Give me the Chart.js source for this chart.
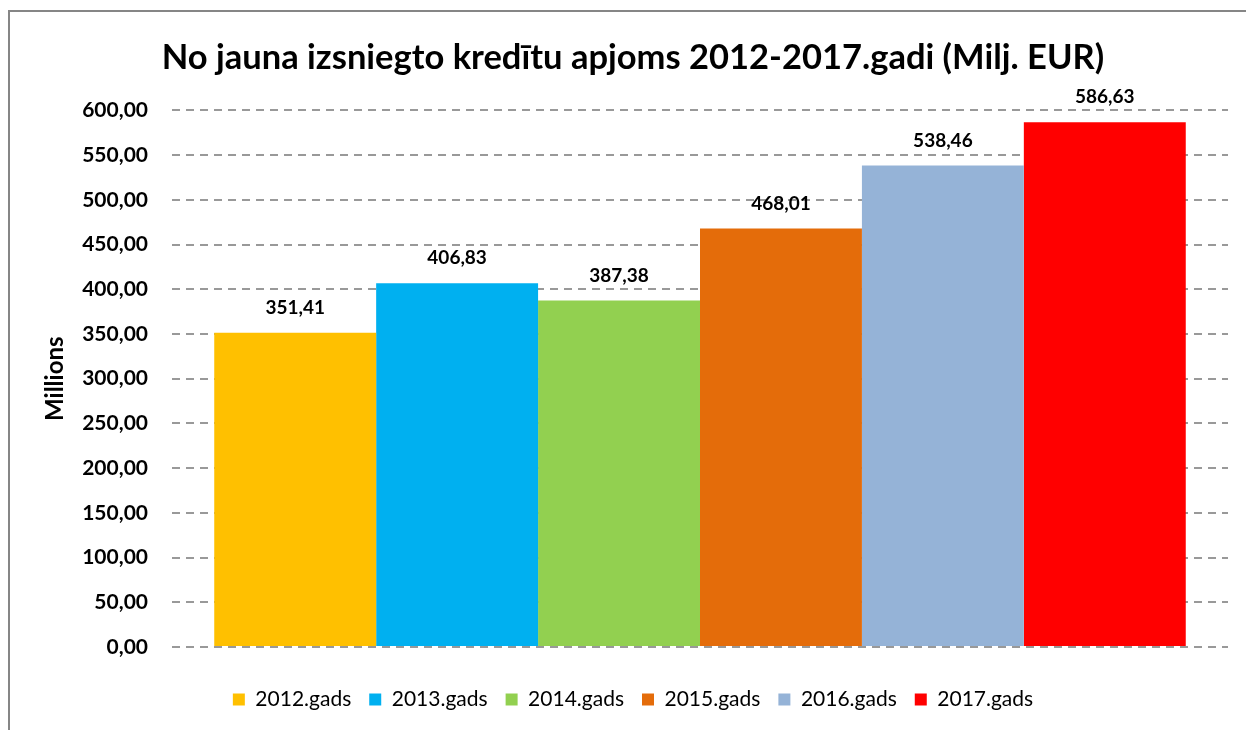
<!DOCTYPE html>
<html>
<head>
<meta charset="utf-8">
<script src="https://cdn.jsdelivr.net/npm/chart.js@4/dist/chart.umd.min.js"></script>
<style>
  html, body { margin: 0; padding: 0; background: #ffffff; }
  #wrap { width: 1246px; height: 730px; }
</style>
</head>
<body>
<div id="wrap"><canvas id="grafiks" width="1246" height="730"></canvas></div>
<script>
// dati
const gadi = ['2012.gads', '2013.gads', '2014.gads', '2015.gads', '2016.gads', '2017.gads'];
const apjoms = [351.41, 406.83, 387.38, 468.01, 538.46, 586.63];
const krasas = ['#FFC000', '#00B0F0', '#92D050', '#E46C0A', '#95B3D7', '#FF0000'];
const asuVertibas = [0, 50, 100, 150, 200, 250, 300, 350, 400, 450, 500, 550, 600];

const fonts = 'Lato, "Open Sans", sans-serif';

function formatet(v) {
    return v.toFixed(2).replace('.', ',');
}

// rāmis ap diagrammu (kā Excel)
const ramis = {
    id: 'ramis',
    beforeDraw(chart) {
        const ctx = chart.ctx;
        ctx.save();
        ctx.strokeStyle = '#868686';
        ctx.lineWidth = 2;
        ctx.strokeRect(9, 11, chart.width + 20, chart.height + 20);
        ctx.restore();
    }
};

// vērtības virs stabiņiem
const vertibuUzraksti = {
    id: 'vertibuUzraksti',
    afterDatasetsDraw(chart) {
        const ctx = chart.ctx;
        ctx.save();
        ctx.font = 'bold 19px ' + fonts;
        ctx.fillStyle = '#000000';
        ctx.textAlign = 'center';
        ctx.textBaseline = 'middle';
        chart.data.datasets.forEach((ds, i) => {
            const meta = chart.getDatasetMeta(i);
            meta.data.forEach((bar, j) => {
                ctx.fillText(formatet(ds.data[j]), bar.x, bar.y - 25);
            });
        });
        ctx.restore();
    }
};

const datasets = gadi.map((g, i) => ({
    label: g,
    data: [apjoms[i]],
    backgroundColor: krasas[i],
    borderWidth: 0,
    categoryPercentage: 0.92,
    barPercentage: 1.0
}));

new Chart(document.getElementById('grafiks').getContext('2d'), {
    type: 'bar',
    data: {
        labels: [''],
        datasets: datasets
    },
    options: {
        responsive: false,
        animation: false,
        layout: { padding: { left: 20, right: 0, top: 0, bottom: 10 } },
        plugins: {
            title: {
                display: true,
                text: 'No jauna izsniegto kredītu apjoms 2012-2017.gadi (Milj. EUR)',
                color: '#000000',
                font: { family: fonts, size: 34.5, weight: 'bold' },
                padding: { top: 37, bottom: 32 }
            },
            legend: {
                position: 'bottom',
                labels: {
                    color: '#000000',
                    font: { family: fonts, size: 21 },
                    boxWidth: 12,
                    boxHeight: 12,
                    padding: 18
                }
            },
            tooltip: { enabled: false }
        },
        scales: {
            x: {
                ticks: { display: false },
                grid: { display: false, drawTicks: false },
                border: { display: false },
                afterFit(scale) {
                    scale.height = 24;
                }
            },
            y: {
                min: 0,
                max: 600,
                afterBuildTicks(scale) {
                    scale.ticks = asuVertibas.map(v => ({ value: v }));
                },
                afterFit(scale) {
                    scale.width = 152;
                },
                ticks: {
                    color: '#000000',
                    padding: 24,
                    font: { family: fonts, size: 21, weight: 'bold' },
                    callback: v => formatet(v)
                },
                grid: {
                    color: '#999999',
                    lineWidth: 2,
                    drawTicks: false
                },
                border: { display: false, dash: [8, 6] },
                title: {
                    display: true,
                    text: 'Millions',
                    color: '#000000',
                    font: { family: fonts, size: 24, weight: 'bold' },
                    padding: { top: 21 }
                }
            },
            // tukša labā ass, lai atstātu atstarpi labajā pusē
            yLabi: {
                position: 'right',
                display: true,
                ticks: { display: false },
                grid: { display: false, drawTicks: false },
                border: { display: false },
                afterFit(scale) {
                    scale.width = 18;
                }
            }
        }
    },
    plugins: [ramis, vertibuUzraksti]
});
</script>
</body>
</html>
